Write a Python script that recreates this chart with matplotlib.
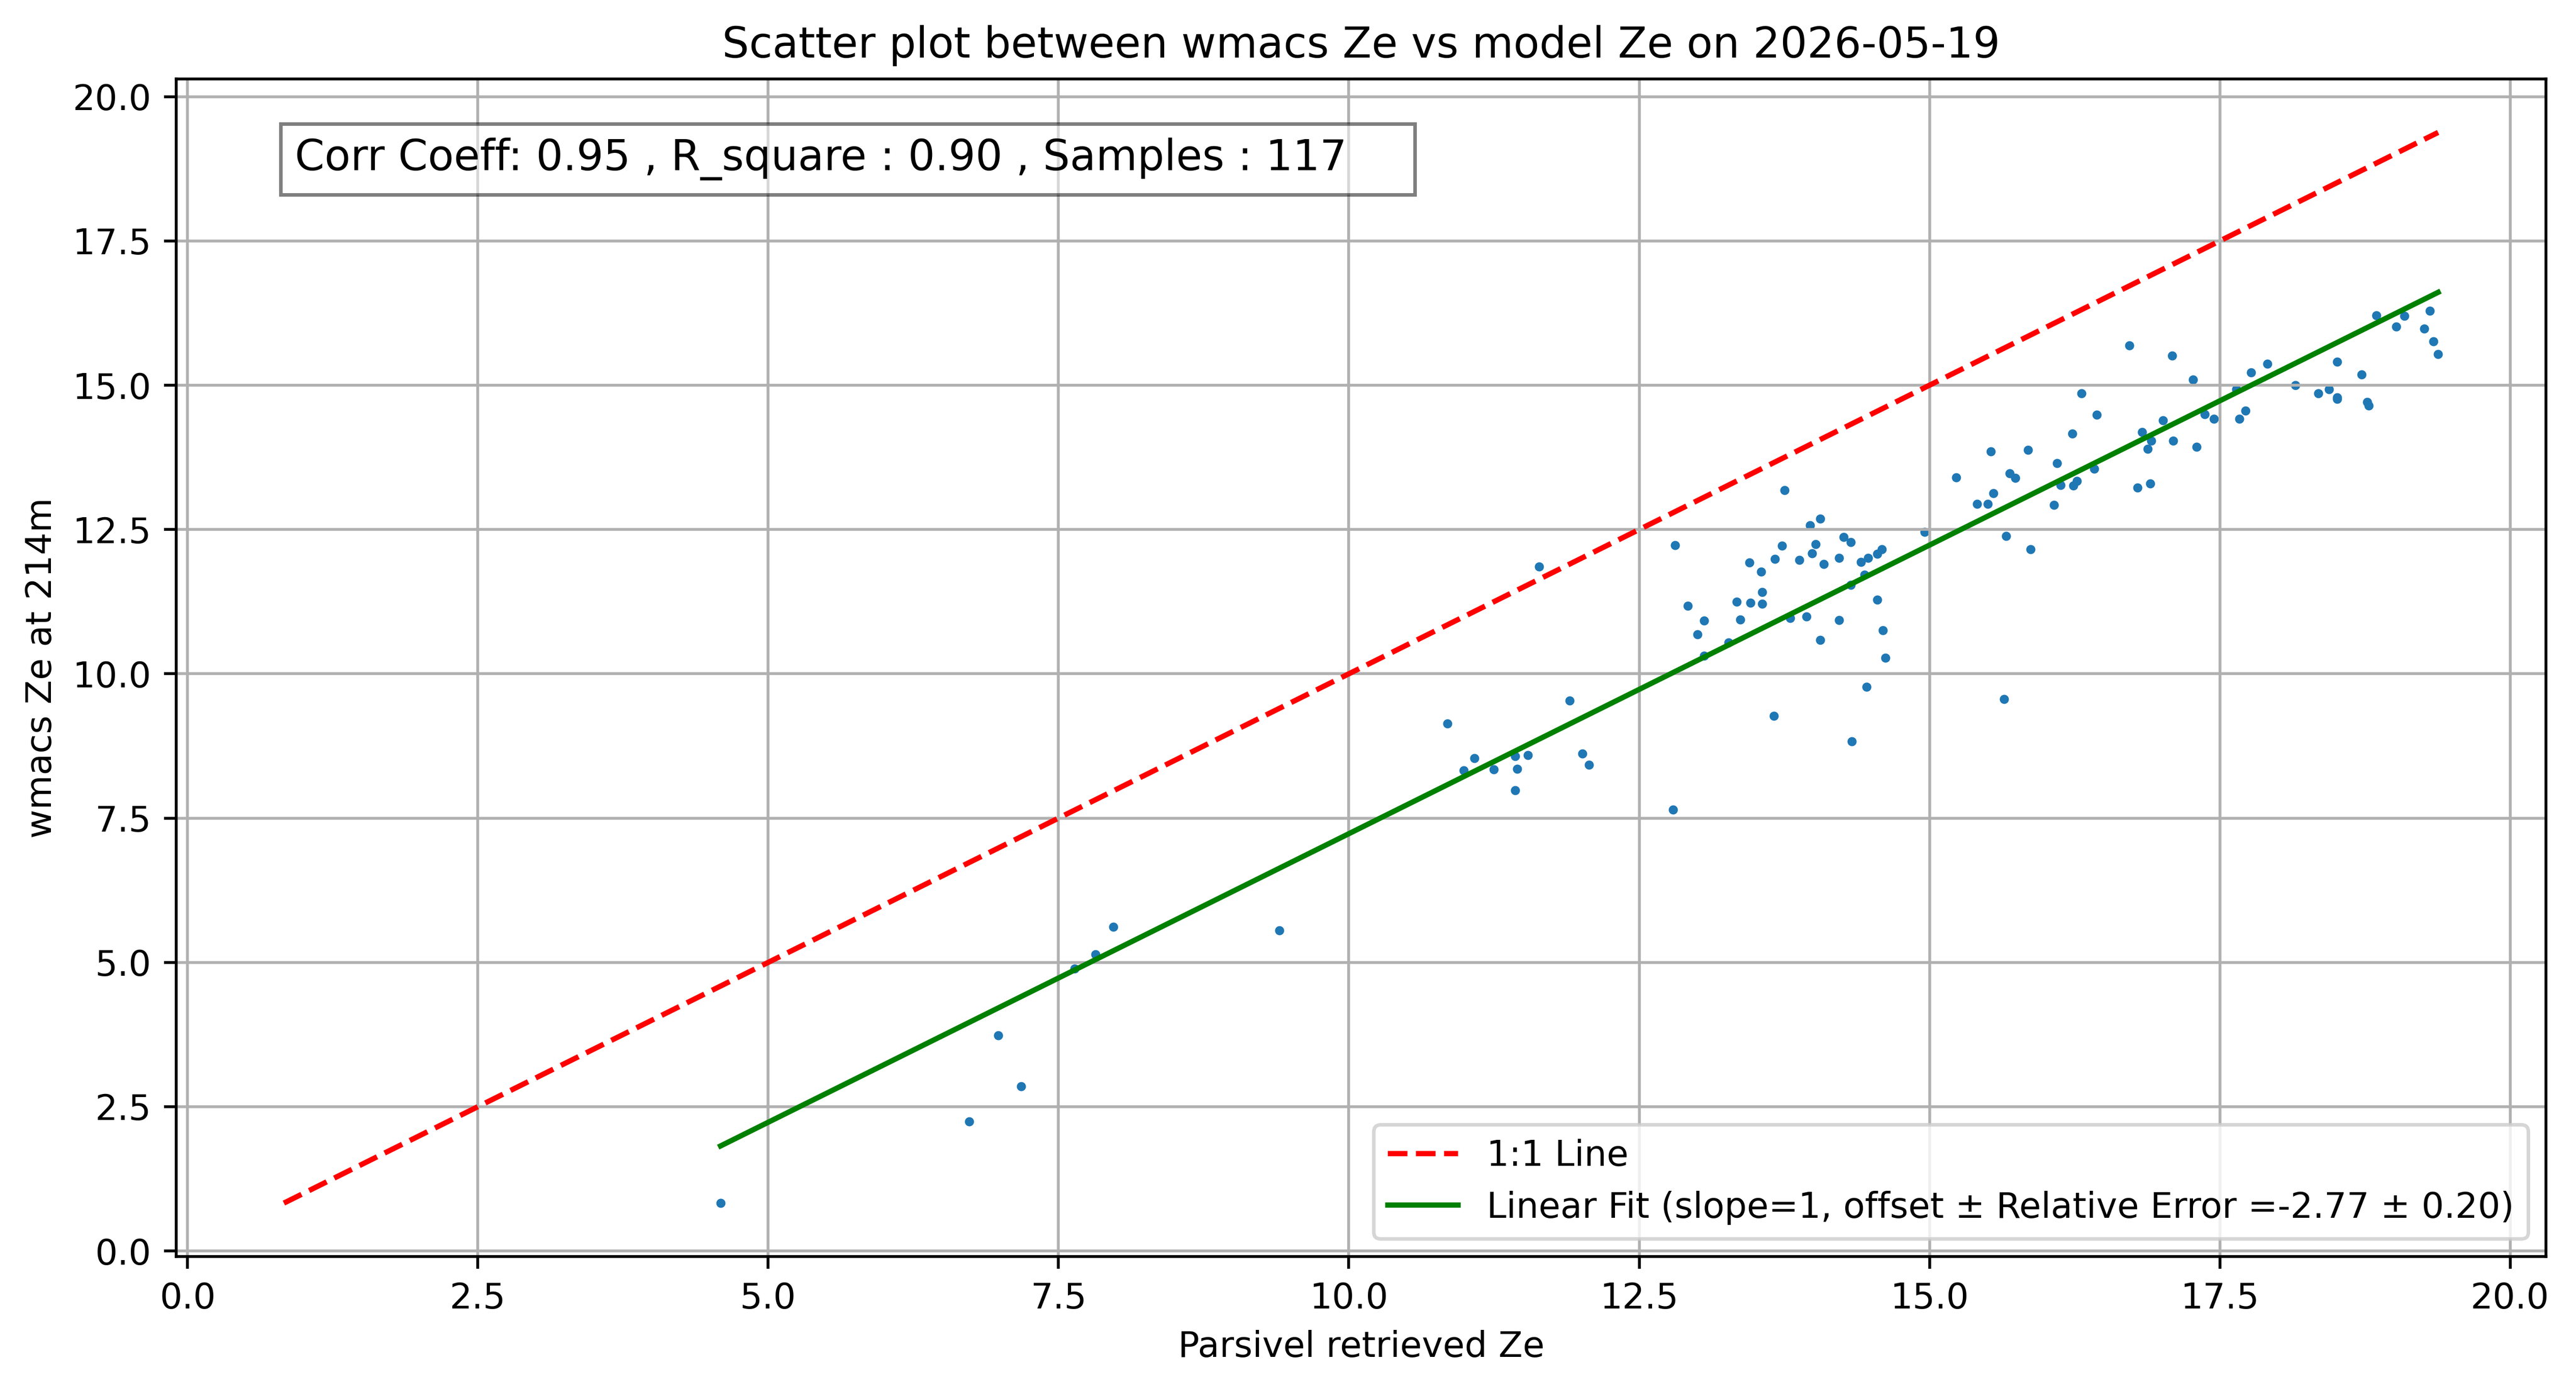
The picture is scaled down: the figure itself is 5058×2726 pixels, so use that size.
import matplotlib.pyplot as plt
import numpy as np

# Parsivel retrieved Ze (x) and wmacs Ze at 214m (y)
parsivel_ze = [
    4.59, 6.73, 6.98, 7.18, 7.64, 7.82, 7.97, 9.40,
    10.85, 10.99, 11.08, 11.25, 11.43, 11.45, 11.43, 11.54, 11.64, 11.90, 12.01, 12.07,
    12.79, 12.81, 12.92, 13.06, 13.00, 13.06, 13.27, 13.34, 13.46, 13.37, 13.45,
    13.75, 13.55, 13.56, 13.56, 13.67, 13.73, 13.80, 13.66, 13.88, 13.94, 13.97, 13.99,
    14.02, 14.06, 14.09, 14.06, 14.22, 14.26, 14.32, 14.22, 14.32, 14.33, 14.41, 14.44,
    14.47, 14.46, 14.55, 14.59, 14.55, 14.60, 14.62, 14.96, 15.23, 15.41, 15.50, 15.53,
    15.55, 15.66, 15.64, 15.69, 15.74, 15.85, 15.87, 16.07, 16.10, 16.13,
    16.72, 17.09, 17.27, 16.31, 16.44, 16.23, 16.24, 16.27, 16.42, 16.79, 16.90, 16.83,
    16.91, 16.88, 17.01, 17.10, 17.30, 17.37, 17.45, 17.64, 17.67, 17.72, 17.77, 17.91,
    18.15, 18.35, 18.44, 18.51, 18.51, 18.51, 18.72, 18.77, 18.78, 18.85, 19.02, 19.09,
    19.26, 19.31, 19.34, 19.38,
]
wmacs_ze = [
    0.83, 2.24, 3.74, 2.85, 4.89, 5.14, 5.62, 5.55,
    9.14, 8.33, 8.54, 8.34, 8.57, 8.35, 7.98, 8.59, 11.86, 9.54, 8.62, 8.42,
    7.65, 12.23, 11.18, 10.92, 10.68, 10.31, 10.54, 11.25, 11.23, 10.94, 11.93,
    13.18, 11.77, 11.42, 11.21, 11.99, 12.22, 10.97, 9.27, 11.97, 10.99, 12.57, 12.09,
    12.25, 12.69, 11.90, 10.59, 12.01, 12.37, 12.28, 10.93, 11.54, 8.83, 11.94, 11.72,
    12.01, 9.77, 12.08, 12.16, 11.28, 10.75, 10.28, 12.46, 13.40, 12.94, 12.94, 13.85,
    13.13, 12.39, 9.56, 13.47, 13.39, 13.88, 12.16, 12.93, 13.65, 13.27,
    15.69, 15.51, 15.10, 14.86, 14.49, 14.16, 13.26, 13.34, 13.55, 13.23, 13.30, 14.19,
    14.04, 13.90, 14.39, 14.04, 13.93, 14.50, 14.42, 14.93, 14.42, 14.56, 15.22, 15.37,
    15.00, 14.86, 14.93, 14.79, 14.76, 15.41, 15.19, 14.71, 14.65, 16.21, 16.02, 16.20,
    15.98, 16.29, 15.76, 15.54,
]

corr_coeff = 0.95
r_square = 0.90
offset = -2.77
offset_err = 0.20
date_str = "2026-05-19"

x = np.array(parsivel_ze)
y = np.array(wmacs_ze)

fig = plt.figure(figsize=(5058 / 500, 2726 / 500), dpi=500)
ax = fig.add_axes([0.0684, 0.0953, 0.9199, 0.8479])

ax.scatter(x, y, s=2.5)

lo = min(x.min(), y.min())
hi = max(x.max(), y.max())
ax.plot([lo, hi], [lo, hi], 'r--', label='1:1 Line')

xfit = np.array([x.min(), x.max()])
ax.plot(xfit, xfit + offset, 'g-',
        label='Linear Fit (slope=1, offset \u00b1 Relative Error =%.2f \u00b1 %.2f)' % (offset, offset_err))

ax.text(0.05, 0.95,
        'Corr Coeff: %.2f , R_square : %.2f , Samples : %d    ' % (corr_coeff, r_square, len(x)),
        transform=ax.transAxes, fontsize=12, va='top',
        bbox=dict(facecolor='white', alpha=0.5))

ax.set_xlabel('Parsivel retrieved Ze')
ax.set_ylabel('wmacs Ze at 214m')
ax.set_title('Scatter plot between wmacs Ze vs model Ze on ' + date_str)
ax.legend(loc='lower right')
ax.grid(True)

fig.savefig('out.png', dpi=500)
